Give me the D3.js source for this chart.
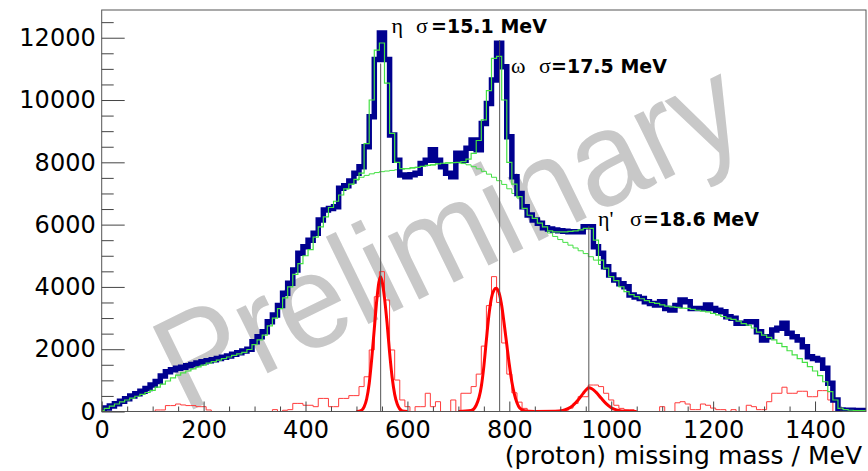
<!DOCTYPE html>
<html>
<head>
<meta charset="utf-8">
<script src="https://cdn.jsdelivr.net/npm/d3@7"></script>
<style>
  html, body { margin: 0; padding: 0; background: #fff; }
  svg { display: block; }
</style>
</head>
<body>
<svg id="chart" width="868" height="471"></svg>
<script>
// bin centres every 10 MeV, 0 ... 1490
const binCentres = d3.range(0, 1500, 10);

// measured counts (thick blue)
const dataCounts = [
  50, 110, 180, 250, 330, 410, 500, 570, 650, 740,
  850, 960, 1140, 1280, 1340, 1385, 1420, 1470, 1510, 1560,
  1600, 1630, 1660, 1700, 1740, 1780, 1840, 1890, 1940, 2000,
  2240, 2400, 2560, 2880, 3100, 3400, 3800, 4115, 4540, 5080,
  5290, 5500, 5720, 6150, 6470, 6520, 6575, 7165, 7250, 7400,
  7645, 7860, 8500, 9460, 11300, 12150, 11300, 8875, 8070, 7590,
  7540, 7600, 7645, 7965, 8070, 8400, 8070, 7860, 7645, 7540,
  8290, 8070, 8450, 8715, 8400, 9250, 9890, 10640, 11820, 11070,
  8820, 7540, 7000, 6575, 6310, 6150, 6040, 5900, 5860, 5825,
  5800, 5790, 5770, 5770, 5770, 5930, 5930, 5290, 5080, 4650,
  4380, 4220, 4100, 4005, 3740, 3680, 3630, 3525, 3470, 3420,
  3525, 3310, 3260, 3400, 3580, 3525, 3310, 3310, 3310, 3420,
  3310, 3250, 3200, 3040, 2990, 2830, 2830, 2880, 2880, 2560,
  2295, 2400, 2615, 2670, 2830, 2510, 2400, 2295, 2080, 1760,
  1700, 1650, 1385, 905, 370, 50, 40, 40, 30, 30
];

// total fit (green)
const fitTotal = [
  30, 100, 170, 240, 310, 370, 430, 490, 550, 610,
  680, 780, 880, 980, 1080, 1170, 1240, 1300, 1370, 1430,
  1490, 1550, 1600, 1650, 1700, 1750, 1800, 1850, 1900, 1990,
  2150, 2300, 2450, 2750, 3000, 3300, 3650, 4000, 4400, 4750,
  5000, 5200, 5600, 5930, 6250, 6550, 6750, 6950, 7150, 7300,
  7450, 7650, 8600, 10000, 11600, 11830, 10540, 8930, 8000, 7800,
  7800, 7820, 7840, 7870, 7900, 7920, 7950, 7970, 7980, 7990,
  8000, 8020, 8100, 8290, 8700, 9360, 10300, 11340, 11400, 10000,
  8000, 7300, 6900, 6520, 6300, 6200, 6050, 5930, 5800, 5770,
  5770, 5770, 5780, 5800, 5830, 5880, 5880, 5500, 4860, 4600,
  4330, 4200, 4005, 3850, 3750, 3685, 3620, 3560, 3500, 3470,
  3420, 3380, 3360, 3340, 3320, 3310, 3280, 3250, 3220, 3200,
  3150, 3100, 3050, 3000, 2960, 2900, 2820, 2775, 2680, 2550,
  2455, 2380, 2300, 2190, 2080, 1950, 1815, 1700, 1580, 1440,
  1300, 1150, 955, 635, 370, 100, 60, 40, 30, 30
];

// background fit (green, under the peaks), bin centres 480 ... 1020
const bgFirstCentre = 480;
const fitBackground = [
  7150, 7300, 7430, 7520, 7580, 7630, 7670, 7700, 7720, 7740,
  7760, 7780, 7800, 7820, 7840, 7870, 7900, 7920, 7950, 7970,
  7980, 7985, 7980, 7960, 7920, 7860, 7790, 7710, 7620, 7520,
  7410, 7290, 7150, 7000, 6850, 6520, 6300, 6150, 5980, 5850,
  5730, 5620, 5520, 5430, 5340, 5250, 5160, 5070, 4970, 4860,
  4720, 4560, 4330, 4200, 4005
];

// background-subtracted spectrum (thin red)
const signalCounts = [
  0, 0, 0, 0, 0, 0, 0, 0, 0, 0,
  0, 50, 50, 190, 190, 240, 210, 190, 190, 155,
  155, 50, 0, 0, 0, 0, 0, 0, 0, 0,
  0, 0, 0, 0, 60, 0, 40, 60, 260, 260,
  200, 200, 155, 420, 420, 155, 155, 420, 420, 510,
  510, 800, 1115, 1975, 3685, 4490, 3580, 1975, 1010, 370,
  155, 0, 155, 155, 585, 155, 315, 0, 0, 370,
  0, 585, 585, 800, 1200, 2100, 3400, 4330, 3500, 2200,
  1200, 600, 300, 100, 0, 0, 0, 0, 0, 0,
  0, 0, 110, 260, 475, 475, 850, 850, 800, 585,
  370, 200, 100, 60, 60, 0, 0, 0, 0, 0,
  155, 0, 0, 280, 315, 240, 60, 60, 240, 200,
  110, 60, 60, 0, 60, 0, 0, 200, 155, 60,
  60, 315, 585, 585, 780, 585, 585, 650, 650, 475,
  475, 670, 670, 370, 0, 0, 0, 0, 0, 0
];

// gaussian fits (thick red), [mass, counts]
const etaCurve = [
  [500, 0], [510, 40], [515, 150], [520, 400], [525, 900], [530, 1700],
  [535, 2650], [540, 3600], [544, 4150], [547, 4330], [550, 4200],
  [555, 3650], [560, 2850], [565, 1900], [570, 1100], [575, 550],
  [580, 240], [585, 80], [590, 20], [600, 0]
];
const omegaCurve = [
  [700, 0], [725, 30], [735, 200], [745, 800], [750, 1450], [755, 2300],
  [760, 3100], [765, 3650], [770, 3900], [774, 3955], [780, 3800],
  [785, 3400], [790, 2800], [795, 2150], [800, 1500], [805, 950],
  [810, 550], [815, 280], [820, 120], [830, 25], [850, 0]
];
const etaPrimeCurve = [
  [850, 0], [890, 5], [905, 30], [915, 90], [925, 200], [935, 370],
  [945, 580], [952, 720], [956, 760], [962, 730], [970, 620],
  [980, 430], [990, 250], [1000, 120], [1010, 50], [1020, 15],
  [1035, 0], [1050, 0]
];

// peak markers
const peakMass = [547.5, 781, 956];
const peakTop = [11170, 11925, 5950];
const peakGreek = ["η", "ω", "η'"];
const peakSigma = ["=15.1 MeV", "=17.5 MeV", "=18.6 MeV"];

const yMajorTicks = d3.range(0, 12001, 2000);
const xMajorTicks = d3.range(0, 1401, 200);

const svg = d3.select("#chart");
const frameL = 101.7, frameR = 866, frameT = 10, frameB = 411.5;

const x = d3.scaleLinear().domain([0, 1500]).range([frameL, frameR]);
const y = d3.scaleLinear().domain([0, 12890]).range([frameB, frameT]);

svg.append("defs").append("clipPath").attr("id", "plot")
  .append("rect").attr("x", frameL).attr("y", frameT)
  .attr("width", frameR - frameL).attr("height", frameB - frameT);

// watermark
svg.append("text")
  .attr("transform", "translate(184,414) rotate(-26)")
  .attr("font-family", "Liberation Sans, Arial, sans-serif")
  .attr("font-size", 134)
  .attr("textLength", 632)
  .attr("lengthAdjust", "spacingAndGlyphs")
  .attr("fill", "#c8c8c8")
  .text("Preliminary");

function stepPoints(values, firstCentre) {
  const pts = [];
  values.forEach((v, i) => {
    const c = firstCentre + i * 10;
    const lo = Math.max(0, c - 5);
    const hi = c === 1490 ? 1500 : c + 5;
    pts.push([lo, v], [hi, v]);
  });
  return pts;
}

const stepLine = d3.line().x(d => x(d[0])).y(d => y(d[1]));
const smoothLine = d3.line().x(d => x(d[0])).y(d => y(d[1])).curve(d3.curveMonotoneX);

const plot = svg.append("g").attr("clip-path", "url(#plot)");

plot.append("path")
  .attr("d", stepLine(stepPoints(signalCounts, 0)))
  .attr("fill", "none").attr("stroke", "#ff3b3b").attr("stroke-width", 1);

plot.append("path")
  .attr("d", stepLine(stepPoints(fitBackground, bgFirstCentre)))
  .attr("fill", "none").attr("stroke", "#44e044").attr("stroke-width", 1);

plot.append("path")
  .attr("d", stepLine(stepPoints(dataCounts, 0)))
  .attr("fill", "none").attr("stroke", "#00008f").attr("stroke-width", 5.5)
  .attr("stroke-linejoin", "miter");

plot.append("path")
  .attr("d", stepLine(stepPoints(fitTotal, 0)))
  .attr("fill", "none").attr("stroke", "#44e044").attr("stroke-width", 1.2);

[etaCurve, omegaCurve, etaPrimeCurve].forEach(curve => {
  plot.append("path")
    .attr("d", smoothLine(curve))
    .attr("fill", "none").attr("stroke", "#ff0000").attr("stroke-width", 3);
});

// peak lines
peakMass.forEach((m, i) => {
  plot.append("line")
    .attr("x1", x(m)).attr("x2", x(m))
    .attr("y1", y(0)).attr("y2", y(peakTop[i]))
    .attr("stroke", "#555").attr("stroke-width", 1);
});

// frame
svg.append("rect")
  .attr("x", frameL).attr("y", frameT)
  .attr("width", frameR - frameL).attr("height", frameB - frameT)
  .attr("fill", "none").attr("stroke", "#555").attr("stroke-width", 1);

// axes: ticks point into the frame
const yMinor = d3.range(500, 12890, 500).filter(v => v % 2000 !== 0);
const xMinor = d3.range(50, 1500, 50).filter(v => v % 200 !== 0);

function styleTicks(g) {
  g.select(".domain").remove();
  g.selectAll(".tick line").attr("stroke", "#444");
}

svg.append("g").attr("transform", `translate(${frameL},0)`)
  .call(d3.axisRight(y).tickValues(yMajorTicks).tickSize(23).tickFormat(""))
  .call(styleTicks);
svg.append("g").attr("transform", `translate(${frameL},0)`)
  .call(d3.axisRight(y).tickValues(yMinor).tickSize(12).tickFormat(""))
  .call(styleTicks);
svg.append("g").attr("transform", `translate(0,${frameB})`)
  .call(d3.axisTop(x).tickValues(xMajorTicks).tickSize(10).tickFormat(""))
  .call(styleTicks);
svg.append("g").attr("transform", `translate(0,${frameB})`)
  .call(d3.axisTop(x).tickValues(xMinor).tickSize(5).tickFormat(""))
  .call(styleTicks);

const yLab = svg.append("g").attr("transform", `translate(${frameL},0)`)
  .call(d3.axisLeft(y).tickValues(yMajorTicks).tickSize(0).tickPadding(6).tickFormat(d3.format("d")));
yLab.select(".domain").remove();
yLab.selectAll("text").attr("font-family", "DejaVu Sans, sans-serif")
  .attr("font-size", 24).attr("fill", "#000");

const xLab = svg.append("g").attr("transform", `translate(0,${frameB})`)
  .call(d3.axisBottom(x).tickValues(xMajorTicks).tickSize(0).tickPadding(9).tickFormat(d3.format("d")));
xLab.select(".domain").remove();
xLab.selectAll("text").attr("font-family", "DejaVu Sans, sans-serif")
  .attr("font-size", 24).attr("fill", "#000");

svg.append("text")
  .attr("x", 862).attr("y", 464)
  .attr("text-anchor", "end")
  .attr("font-family", "DejaVu Sans, sans-serif")
  .attr("font-size", 25)
  .text("(proton) missing mass / MeV");

// peak labels
const labelPos = [
  { gx: 391.5, sx: 416, rx: 431, by: 33 },
  { gx: 511, sx: 539, rx: 551, by: 73 },
  { gx: 598, sx: 630, rx: 643, by: 225.5 }
];
labelPos.forEach((p, i) => {
  const t = svg.append("text").attr("y", p.by);
  t.append("tspan").attr("x", p.gx)
    .attr("font-family", "Liberation Serif, serif").attr("font-size", 22)
    .text(peakGreek[i]);
  t.append("tspan").attr("x", p.sx)
    .attr("font-family", "Liberation Serif, serif").attr("font-size", 22)
    .text("σ");
  t.append("tspan").attr("x", p.rx)
    .attr("font-family", "DejaVu Sans, sans-serif").attr("font-weight", "bold")
    .attr("font-size", 19)
    .text(peakSigma[i]);
});
</script>
</body>
</html>
